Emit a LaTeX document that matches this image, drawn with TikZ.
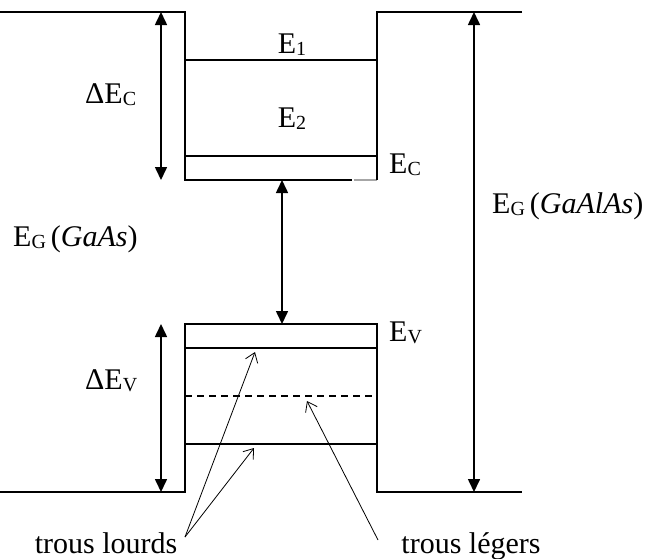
\documentclass[tikz,border=0pt]{standalone}
\usepackage{fontspec}
\setmainfont{Liberation Serif}
\usetikzlibrary{arrows.meta}
\newcommand{\lsub}[1]{\raisebox{-2pt}{\fontsize{20}{20}\selectfont #1}}
\begin{document}
\begin{tikzpicture}[x=1pt,y=-1pt,
  band/.style={line width=1.8pt},
  level/.style={line width=1.5pt},
  dim/.style={line width=1.6pt,{Triangle[length=13pt,width=12pt]}-{Triangle[length=13pt,width=12pt]}},
  hole/.style={line width=0.8pt,-{Straight Barb[length=9pt,width=13pt]}},
  lbl/.style={inner sep=0pt,font=\fontsize{30}{32}\selectfont}]
\useasboundingbox (0,0) rectangle (655,558);
% coordinates
\coordinate (tl0) at (0,12);
\coordinate (tl1) at (185,12);
\coordinate (cb1) at (185,180);
\coordinate (cb2) at (352,180);
\coordinate (cb3) at (354,180);
\coordinate (cb4) at (377,180);
\coordinate (tr1) at (377,12);
\coordinate (tr0) at (522,12);
\coordinate (bl0) at (0,492);
\coordinate (bl1) at (185,492);
\coordinate (vt1) at (185,324);
\coordinate (vt2) at (377,324);
\coordinate (br1) at (377,492);
\coordinate (br0) at (522,492);
% band profile
\draw[band] (tl0) -- (tl1) -- (cb1) -- (cb2);
\draw[band,gray!70] (cb3) -- (cb4);
\draw[band] (tr0) -- (tr1) -- (cb4);
\draw[band] (bl0) -- (bl1) -- (vt1) -- (vt2) -- (br1) -- (br0);
% levels
\coordinate (e1a) at (185,60);  \coordinate (e1b) at (377,60);
\coordinate (eca) at (185,156); \coordinate (ecb) at (377,156);
\coordinate (h1a) at (185,348); \coordinate (h1b) at (377,348);
\coordinate (l1a) at (185,396); \coordinate (l1b) at (377,396);
\coordinate (h2a) at (185,444); \coordinate (h2b) at (377,444);
\draw[level] (e1a) -- (e1b);
\draw[level] (eca) -- (ecb);
\draw[level] (h1a) -- (h1b);
\draw[level,dash pattern=on 7pt off 5pt] (l1a) -- (l1b);
\draw[level] (h2a) -- (h2b);
% dimension arrows
\coordinate (dc1) at (161,12);  \coordinate (dc2) at (161,180);
\coordinate (dv1) at (161,324); \coordinate (dv2) at (161,492);
\coordinate (dm1) at (282,180); \coordinate (dm2) at (282,324);
\coordinate (dr1) at (474,12);  \coordinate (dr2) at (474,492);
\draw[dim] (dc1) -- (dc2);
\draw[dim] (dv1) -- (dv2);
\draw[dim] (dm1) -- (dm2);
\draw[dim] (dr1) -- (dr2);
% labels
\node[lbl,anchor=base] (E1) at (292,53) {E\lsub{1}};
\node[lbl,anchor=base] (E2) at (292,127) {E\lsub{2}};
\node[lbl,anchor=base west] (EC) at (389,173) {E\lsub{C}};
\node[lbl,anchor=base west] (EV) at (389,341) {E\lsub{V}};
\node[lbl,anchor=base west] (dEC) at (85,103) {ΔE\lsub{C}};
\node[lbl,anchor=base west] (dEV) at (85,389) {ΔE\lsub{V}};
\node[lbl,anchor=base west] (EGa) at (13,246) {E\lsub{G}\,(\textit{GaAs})};
\node[lbl,anchor=base west] (EGb) at (492,213) {E\lsub{G}\,(\textit{GaAlAs})};
\node[lbl,anchor=base] (tl) at (106,553) {trous lourds};
\node[lbl,anchor=base] (tg) at (471,553) {trous légers};
% hole pointers
\coordinate (hs) at (185,537);
\coordinate (hp1) at (255,352);
\coordinate (hp2) at (254,448);
\coordinate (ls) at (378,540);
\coordinate (lp) at (307,401);
\draw[hole] (hs) -- (hp1);
\draw[hole] (hs) -- (hp2);
\draw[hole] (ls) -- (lp);
\end{tikzpicture}
\end{document}
